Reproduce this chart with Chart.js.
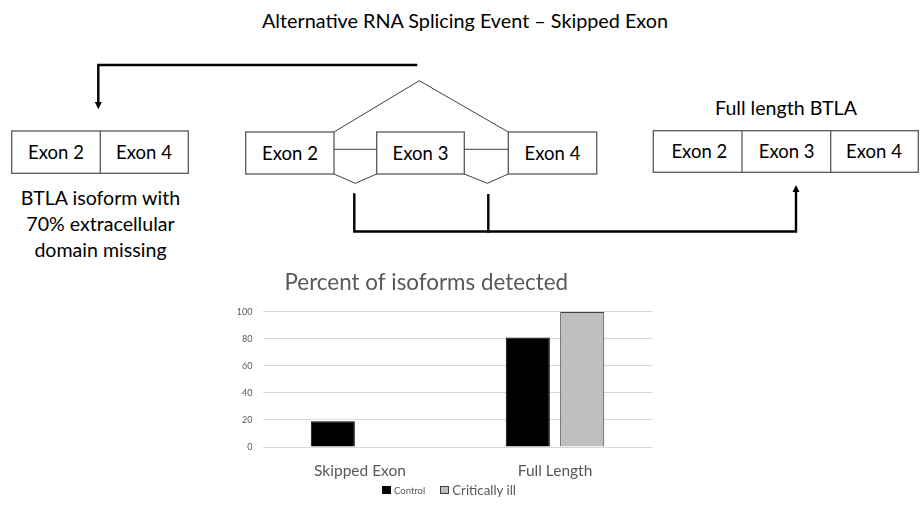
<!DOCTYPE html>
<html>
<head>
<meta charset="utf-8">
<script src="https://cdn.jsdelivr.net/npm/chart.js@4/dist/chart.umd.min.js"></script>
<style>
  body { margin: 0; background: #fff; font-family: Lato, sans-serif; }
  #page { position: relative; width: 921px; height: 505px; overflow: hidden; }
  #diagram { position: absolute; left: 0; top: 0; }
  #chartBox { position: absolute; left: 200px; top: 262px; width: 500px; height: 243px; }
  #legend { position: absolute; left: 0; top: 482px; width: 898px; text-align: center; font-size: 0; white-space: nowrap; }
  .item { display: inline-block; vertical-align: middle; color: #595959; }
  .item + .item { margin-left: 15px; }
  .swatch { display: inline-block; width: 9px; height: 8px; margin-right: 3px; vertical-align: middle; box-sizing: border-box; }
  .lbl { vertical-align: middle; }
</style>
</head>
<body>
<div id="page">
  <svg id="diagram" width="921" height="300" font-family="Lato, sans-serif" fill="#000">
    <text x="465" y="28" font-size="19.8" text-anchor="middle">Alternative RNA Splicing Event – Skipped Exon</text>

    <g stroke="#595959" stroke-width="1.3" fill="none">
      <rect x="11.7" y="131" width="176.6" height="42.3"/>
      <line x1="100.3" y1="131" x2="100.3" y2="173.3"/>
      <rect x="245.7" y="132" width="88.3" height="42"/>
      <rect x="376.7" y="132" width="87.6" height="42"/>
      <rect x="508.3" y="132" width="88.4" height="42"/>
      <rect x="653.3" y="130.7" width="265" height="41.6"/>
      <line x1="742" y1="130.7" x2="742" y2="172.3"/>
      <line x1="830.7" y1="130.7" x2="830.7" y2="172.3"/>
    </g>
    <g stroke="#404040" stroke-width="1" fill="none">
      <line x1="334" y1="149.3" x2="376.7" y2="149.3"/>
      <line x1="464.3" y1="149.3" x2="508.3" y2="149.3"/>
      <polyline points="334,132 419.3,80.7 508.3,132"/>
      <polyline points="334,174 355.3,183.3 376.7,174"/>
      <polyline points="464.3,174 487.3,183.3 508.3,174"/>
    </g>
    <g stroke="#000" stroke-width="2.4" fill="none">
      <polyline points="417.3,65 98.3,65 98.3,103"/>
      <polyline points="354.3,193.3 354.3,231.5 796,231.5 796,191"/>
      <line x1="488.3" y1="194" x2="488.3" y2="232.7"/>
    </g>
    <polygon points="94.8,102 101.8,102 98.3,109.3" fill="#000"/>
    <polygon points="792.5,192 799.5,192 796,185" fill="#000"/>

    <g font-size="18.5" text-anchor="middle" fill="#000">
      <text x="56" y="159">Exon 2</text>
      <text x="144" y="159">Exon 4</text>
      <text x="290" y="160">Exon 2</text>
      <text x="420.5" y="160">Exon 3</text>
      <text x="552.5" y="160">Exon 4</text>
      <text x="699.3" y="158">Exon 2</text>
      <text x="786.7" y="158">Exon 3</text>
      <text x="874" y="158">Exon 4</text>
    </g>
    <g font-size="19.6" text-anchor="middle" fill="#000">
      <text x="786" y="115">Full length BTLA</text>
      <text x="100.5" y="205">BTLA isoform with</text>
      <text x="100.5" y="231">70% extracellular</text>
      <text x="100.5" y="256.5">domain missing</text>
    </g>
  </svg>
  <div id="chartBox"><canvas id="isoChart"></canvas></div>
  <div id="legend"></div>
</div>
<script>
const categories = ['Skipped Exon', 'Full Length'];
const seriesLabels = ['Control', 'Critically ill'];
const controlValues = [19, 81];
const illValues = [0, 100];
const yTicks = [0, 20, 40, 60, 80, 100];

const seriesColors = ['#000000', '#bfbfbf'];
const seriesBorders = ['#000000', '#404040'];
const legendFontSizes = [9.5, 13.3];

const chart = new Chart(document.getElementById('isoChart'), {
    type: 'bar',
    data: {
        labels: categories,
        datasets: [
            {
                label: seriesLabels[0],
                data: controlValues,
                backgroundColor: seriesColors[0],
                borderColor: seriesBorders[0],
                borderWidth: 1
            },
            {
                label: seriesLabels[1],
                data: illValues,
                backgroundColor: seriesColors[1],
                borderColor: seriesBorders[1],
                borderWidth: 1
            }
        ]
    },
    options: {
        responsive: true,
        maintainAspectRatio: false,
        animation: false,
        datasets: { bar: { categoryPercentage: 0.558, barPercentage: 0.81 } },
        layout: { padding: { left: 0, right: 47.5, top: 0, bottom: 18 } },
        plugins: {
            legend: { display: false },
            tooltip: { enabled: false },
            title: {
                display: true,
                text: 'Percent of isoforms detected',
                color: '#595959',
                font: { family: 'Lato, sans-serif', size: 22.4, weight: 'normal' },
                padding: { top: 7, bottom: 16 }
            }
        },
        scales: {
            x: {
                grid: { display: false },
                border: { display: false },
                ticks: { color: '#595959', font: { family: 'Lato, sans-serif', size: 15.5 }, padding: 7 },
                afterFit: (s) => { s.height = 40; }
            },
            y: {
                min: 0,
                max: 100,
                afterBuildTicks: (s) => { s.ticks = yTicks.map(v => ({ value: v })); },
                grid: { color: '#d9d9d9', lineWidth: 1, drawTicks: false },
                border: { display: false },
                ticks: { color: '#595959', font: { family: 'Lato, sans-serif', size: 9 }, padding: 10 },
                afterFit: (s) => { s.width = 62.5; }
            }
        }
    }
});

// legend built from the dataset list
const legendEl = document.getElementById('legend');
chart.data.datasets.forEach((ds, i) => {
    const item = document.createElement('span');
    item.className = 'item';
    const sw = document.createElement('span');
    sw.className = 'swatch';
    sw.style.background = ds.backgroundColor;
    sw.style.border = '1px solid ' + ds.borderColor;
    const lbl = document.createElement('span');
    lbl.className = 'lbl';
    lbl.style.fontSize = legendFontSizes[i] + 'px';
    lbl.textContent = ds.label;
    item.appendChild(sw);
    item.appendChild(lbl);
    legendEl.appendChild(item);
});
</script>
</body>
</html>
